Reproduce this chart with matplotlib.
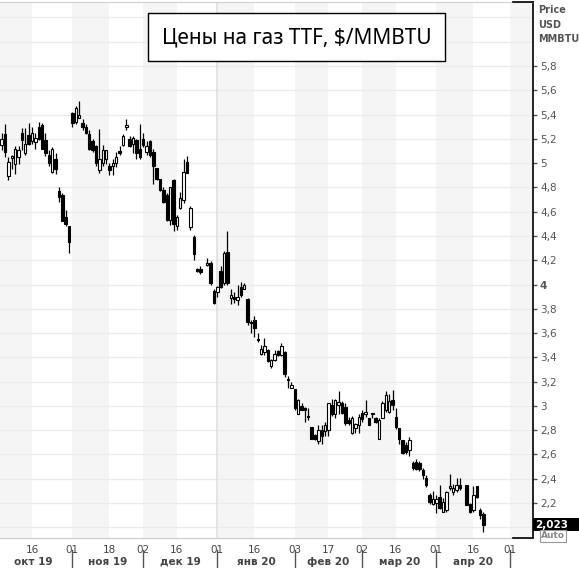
import numpy as np
import matplotlib.pyplot as plt
from matplotlib.patches import Rectangle

# TTF gas prices, daily OHLC, $/MMBTU
dates = [
    "2019-10-03", "2019-10-04", "2019-10-07", "2019-10-08", "2019-10-09", "2019-10-10", "2019-10-11",
    "2019-10-14", "2019-10-15", "2019-10-16", "2019-10-17", "2019-10-18", "2019-10-21", "2019-10-22",
    "2019-10-23", "2019-10-24", "2019-10-25", "2019-10-28", "2019-10-29", "2019-10-30", "2019-10-31",
    "2019-11-01", "2019-11-04", "2019-11-05", "2019-11-06", "2019-11-07", "2019-11-08", "2019-11-11",
    "2019-11-12", "2019-11-13", "2019-11-14", "2019-11-15", "2019-11-18", "2019-11-19", "2019-11-20",
    "2019-11-21", "2019-11-22", "2019-11-25", "2019-11-26", "2019-11-27", "2019-11-28", "2019-11-29",
    "2019-12-02", "2019-12-03", "2019-12-04", "2019-12-05", "2019-12-06", "2019-12-09", "2019-12-10",
    "2019-12-11", "2019-12-12", "2019-12-13", "2019-12-16", "2019-12-17", "2019-12-18", "2019-12-19",
    "2019-12-20", "2019-12-23", "2019-12-24", "2019-12-25", "2019-12-27", "2019-12-30", "2019-12-31",
    "2020-01-01", "2020-01-02", "2020-01-03", "2020-01-06", "2020-01-07", "2020-01-08", "2020-01-09",
    "2020-01-10", "2020-01-13", "2020-01-14", "2020-01-15", "2020-01-16", "2020-01-17", "2020-01-20",
    "2020-01-21", "2020-01-22", "2020-01-23", "2020-01-24", "2020-01-27", "2020-01-28", "2020-01-29",
    "2020-01-30", "2020-01-31", "2020-02-03", "2020-02-04", "2020-02-05", "2020-02-06", "2020-02-07",
    "2020-02-10", "2020-02-11", "2020-02-12", "2020-02-13", "2020-02-14", "2020-02-17", "2020-02-18",
    "2020-02-19", "2020-02-20", "2020-02-21", "2020-02-24", "2020-02-25", "2020-02-26", "2020-02-27",
    "2020-02-28", "2020-03-02", "2020-03-03", "2020-03-04", "2020-03-05", "2020-03-06", "2020-03-09",
    "2020-03-10", "2020-03-11", "2020-03-12", "2020-03-13", "2020-03-16", "2020-03-17", "2020-03-18",
    "2020-03-19", "2020-03-20", "2020-03-23", "2020-03-24", "2020-03-25", "2020-03-26", "2020-03-27",
    "2020-03-30", "2020-03-31", "2020-04-01", "2020-04-02", "2020-04-03", "2020-04-06", "2020-04-07",
    "2020-04-08", "2020-04-09", "2020-04-10", "2020-04-14", "2020-04-15", "2020-04-16", "2020-04-17",
    "2020-04-20", "2020-04-21",
]

opens = [
    5.15, 5.24, 4.89, 5.04, 4.99, 5.05, 5.25, 5.08, 5.23, 5.18,
    5.17, 5.30, 5.31, 5.19, 5.07, 4.93, 5.03, 4.77, 4.74, 4.56, 4.48,
    5.41, 5.34, 5.37, 5.33, 5.30, 5.24, 5.18, 5.14, 4.94, 5.00, 5.03,
    4.98, 4.98, 5.00, 5.10, 5.15, 5.30, 5.20, 5.16, 5.19, 5.12,
    5.20, 5.09, 5.18, 5.09, 4.96, 4.87, 4.78, 4.74, 4.53, 4.86,
    4.48, 4.63, 4.70, 5.01, 4.47, 4.39, 4.13, 4.13,
    4.16, 4.18, 3.95, 3.94, 4.11, 4.01, 4.27,
    3.89, 3.90, 3.87, 3.98, 3.96, 3.88, 3.69, 3.71,
    3.55, 3.43, 3.44, 3.46, 3.33, 3.38, 3.45, 3.42, 3.44, 3.22, 3.15,
    3.14, 2.93, 3.00, 2.98, 2.92, 2.83, 2.76, 2.71, 2.80, 2.79,
    2.80, 3.01, 2.93, 3.01, 3.02, 2.99, 2.88, 2.78, 2.82, 2.84,
    2.94, 2.93, 2.90, 2.93, 2.90, 2.73, 2.90, 2.97, 2.95, 3.05,
    2.91, 2.82, 2.72, 2.68, 2.64, 2.53, 2.54, 2.53, 2.47, 2.41,
    2.27, 2.19, 2.20, 2.25, 2.13, 2.14, 2.32, 2.29, 2.31, 2.35,
    2.35, 2.19, 2.14, 2.34, 2.14, 2.11,
]

highs = [
    5.25, 5.32, 5.05, 5.07, 5.14, 5.14, 5.29, 5.29, 5.33, 5.30,
    5.25, 5.34, 5.33, 5.25, 5.11, 5.13, 5.08, 4.80, 4.75, 4.61, 4.48,
    5.42, 5.47, 5.51, 5.36, 5.32, 5.27, 5.20, 5.15, 5.28, 5.15, 5.11,
    5.00, 5.03, 5.09, 5.14, 5.24, 5.36, 5.22, 5.22, 5.20, 5.32,
    5.25, 5.18, 5.19, 5.12, 4.96, 4.87, 4.80, 4.75, 4.80, 4.87,
    4.57, 4.76, 5.03, 5.06, 4.65, 4.41, 4.14, 4.15,
    4.22, 4.19, 3.96, 3.99, 4.15, 4.28, 4.44,
    3.96, 3.94, 4.00, 4.02, 4.01, 3.89, 3.71, 3.74,
    3.60, 3.50, 3.56, 3.47, 3.39, 3.46, 3.46, 3.52, 3.45, 3.25, 3.20,
    3.14, 3.06, 3.02, 2.99, 2.98, 2.83, 2.77, 2.84, 2.84, 2.87,
    3.02, 3.06, 3.06, 3.12, 3.04, 3.02, 2.91, 2.92, 2.86, 2.93,
    2.97, 3.05, 2.90, 2.94, 2.91, 2.90, 3.04, 3.12, 3.10, 3.13,
    2.98, 2.82, 2.72, 2.70, 2.74, 2.55, 2.56, 2.55, 2.49, 2.43,
    2.28, 2.30, 2.27, 2.35, 2.24, 2.30, 2.44, 2.36, 2.41, 2.41,
    2.35, 2.20, 2.34, 2.34, 2.16, 2.13,
]

lows = [
    5.11, 5.05, 4.86, 4.95, 4.91, 4.99, 5.11, 5.07, 5.15, 5.16,
    5.12, 5.19, 5.12, 5.06, 4.98, 4.92, 4.91, 4.68, 4.52, 4.48, 4.26,
    5.30, 5.32, 5.37, 5.27, 5.24, 5.11, 5.09, 4.98, 4.92, 4.98, 4.99,
    4.90, 4.90, 4.97, 5.07, 5.14, 5.27, 5.13, 5.08, 5.03, 5.03,
    5.13, 5.07, 5.05, 4.83, 4.86, 4.77, 4.67, 4.52, 4.49, 4.44,
    4.45, 4.62, 4.67, 4.92, 4.45, 4.20, 4.10, 4.09,
    4.15, 4.00, 3.84, 3.90, 3.97, 4.00, 4.00,
    3.84, 3.85, 3.83, 3.90, 3.96, 3.67, 3.60, 3.57,
    3.53, 3.42, 3.42, 3.36, 3.31, 3.37, 3.41, 3.41, 3.24, 3.15, 3.15,
    2.97, 2.93, 2.97, 2.87, 2.88, 2.73, 2.72, 2.69, 2.69, 2.75,
    2.75, 2.92, 2.90, 2.93, 2.93, 2.84, 2.84, 2.77, 2.78, 2.78,
    2.87, 2.91, 2.84, 2.90, 2.86, 2.73, 2.90, 2.95, 2.94, 2.97,
    2.81, 2.69, 2.60, 2.60, 2.59, 2.47, 2.47, 2.46, 2.40, 2.33,
    2.19, 2.18, 2.12, 2.15, 2.13, 2.13, 2.31, 2.27, 2.29, 2.31,
    2.18, 2.12, 2.13, 2.24, 2.07, 1.96,
]

closes = [
    5.20, 5.09, 5.01, 5.06, 5.12, 5.11, 5.19, 5.16, 5.16, 5.25,
    5.21, 5.20, 5.12, 5.08, 5.00, 5.12, 4.95, 4.72, 4.52, 4.50, 4.35,
    5.33, 5.45, 5.40, 5.30, 5.25, 5.12, 5.11, 5.00, 5.03, 5.11, 5.11,
    4.94, 5.00, 5.05, 5.08, 5.22, 5.31, 5.14, 5.21, 5.08, 5.05,
    5.15, 5.14, 5.07, 4.98, 4.87, 4.78, 4.68, 4.53, 4.80, 4.50,
    4.56, 4.71, 4.93, 4.92, 4.63, 4.25, 4.11, 4.10,
    4.18, 4.01, 3.85, 3.98, 3.98, 4.26, 4.01,
    3.91, 3.88, 3.90, 3.91, 4.00, 3.69, 3.68, 3.64,
    3.54, 3.47, 3.49, 3.37, 3.38, 3.43, 3.42, 3.49, 3.26, 3.21, 3.17,
    2.98, 3.05, 2.97, 2.97, 2.91, 2.73, 2.73, 2.80, 2.75, 2.84,
    3.02, 2.93, 3.05, 3.03, 2.94, 2.86, 2.86, 2.90, 2.85, 2.91,
    2.89, 2.95, 2.84, 2.93, 2.87, 2.88, 3.02, 3.09, 3.04, 3.01,
    2.83, 2.73, 2.61, 2.62, 2.72, 2.49, 2.48, 2.48, 2.43, 2.35,
    2.21, 2.23, 2.23, 2.16, 2.21, 2.29, 2.34, 2.32, 2.35, 2.32,
    2.18, 2.13, 2.27, 2.25, 2.10, 2.023,
]

months = ["2019-10", "2019-11", "2019-12", "2020-01", "2020-02", "2020-03", "2020-04", "2020-05"]
month_names = ["окт 19", "ноя 19", "дек 19", "янв 20", "фев 20", "мар 20", "апр 20"]
title = "Цены на газ TTF, $/MMBTU"
last_price = "2,023"

# trading-day axis (weekends removed)
start = np.datetime64("2019-10-01")
x = np.busday_count(start, np.array(dates, dtype="datetime64[D]"))
o, h, l, c = map(np.array, (opens, highs, lows, closes))

def bday(s):
    d = np.busday_offset(np.datetime64(s), 0, roll="forward")
    return np.busday_count(start, d), str(d)[-2:]

W, H = 579, 568
XMIN, XMAX = 1.5, 159.7
fig = plt.figure(figsize=(W / 100, H / 100), dpi=100)
ax = fig.add_axes([0, 1 - 538 / H, 533 / W, 536 / H])
ax.set_xlim(XMIN, XMAX)
ax.set_ylim(1.912, 6.327)

# half-month shading: 1st .. 16th grey
tick_pos, tick_lab, month_pos = [], [], []
for m in months:
    p1, l1 = bday(m + "-01")
    p16, l16 = bday(m + "-16")
    ax.axvspan(p1, p16, color="#f5f5f5", lw=0, zorder=0)
    for p, lab in [(p1, l1), (p16, l16)]:
        if XMIN < p < XMAX - 5:
            tick_pos.append(p)
            tick_lab.append(lab)
    month_pos.append(p1)
ax.axvline(bday("2020-01-01")[0], color="#e2e2e2", lw=1.3, zorder=0.6)

for v in np.arange(1.8, 6.41, 0.2):
    ax.axhline(v, color="#ebebeb", lw=1, zorder=0.5)

# candles
up = c >= o
ax.vlines(x, l, h, color="black", lw=0.9, zorder=2)
body = np.maximum(np.abs(c - o), 0.008)
ax.bar(x, body, bottom=np.minimum(o, c), width=0.72,
       color=np.where(up, "white", "black"), edgecolor="black", lw=0.8, zorder=3)

# axes styling
ax.spines["left"].set_visible(False)
ax.spines["top"].set_color("#d0d0d0")
ax.spines["bottom"].set_color("#c8c8c8")
ax.spines["right"].set_color("black")
ax.spines["right"].set_linewidth(1.2)

yt = np.round(np.arange(2.2, 5.81, 0.2), 1)
ax.yaxis.tick_right()
ax.set_yticks(yt, [f"{v:g}".replace(".", ",") for v in yt])
for t, v in zip(ax.get_yticklabels(), yt):
    if v == 4:
        t.set_fontweight("bold")
ax.tick_params(axis="y", length=3, width=1, color="#555555", labelsize=7.5,
               labelcolor="#555555", pad=2)

ax.set_xticks(tick_pos, tick_lab)
ax.tick_params(axis="x", length=0, pad=5, labelsize=7.5, labelcolor="#444444")

xt = ax.get_xaxis_transform()
for i, name in enumerate(month_names):
    ax.text((month_pos[i] + month_pos[i + 1]) / 2, -24 / 536, name, transform=xt,
            ha="center", va="center", fontsize=7.5, fontweight="bold", color="#444444")
for p in month_pos[1:]:
    ax.plot([p, p], [-12 / 536, -30 / 536], transform=xt, clip_on=False, color="#555555", lw=1)

# black corners near price scale
fig.add_artist(plt.Line2D([513 / W, 533 / W], [1 - 2 / H, 1 - 2 / H], color="black", lw=1.2))
fig.add_artist(plt.Line2D([513 / W, 533 / W], [1 - 538 / H, 1 - 538 / H], color="black", lw=1.2))

# scale header
for txt, yy in [("Price", 10), ("USD", 25), ("MMBTU", 39)]:
    fig.text(538 / W, 1 - yy / H, txt, ha="left", va="center", fontsize=7,
             fontweight="bold", color="#555555")

# last price tag
fig.text(541 / W, 1 - 536 / H, "Auto", ha="left", va="center", fontsize=6.5, fontweight="bold",
         color="#888888", bbox=dict(boxstyle="square,pad=0.15", fc="white", ec="#999999", lw=0.8))
fig.add_artist(Rectangle((533 / W, 1 - 531 / H), 46 / W, 13 / H, transform=fig.transFigure,
                         fc="black", ec="none"))
fig.text(535 / W, 1 - 524.5 / H, last_price, ha="left", va="center", fontsize=7.5,
         fontweight="bold", color="white")

# title box
fig.add_artist(Rectangle((148 / W, 1 - 61 / H), 297 / W, 48 / H, transform=fig.transFigure,
                         fc="white", ec="black", lw=1, zorder=5))
fig.text(296.5 / W, 1 - 38 / H, title, ha="center", va="center", fontsize=15,
         family="Noto Sans", color="black", zorder=6)

fig.savefig("out.png", dpi=100)
